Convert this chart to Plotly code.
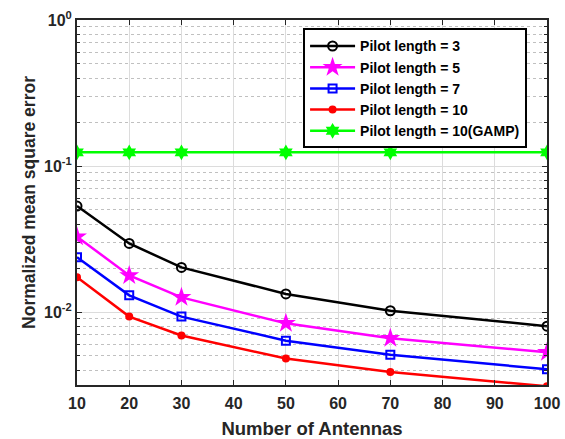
import plotly.graph_objects as go

antennas = [10, 20, 30, 50, 70, 100]
nmse_p3 = [0.0532, 0.0295, 0.0202, 0.0133, 0.0102, 0.0080]
nmse_p5 = [0.0328, 0.0178, 0.0126, 0.00836, 0.0066, 0.0053]
nmse_p7 = [0.0237, 0.0130, 0.0093, 0.00636, 0.0051, 0.00405]
nmse_p10 = [0.0173, 0.0093, 0.0069, 0.0048, 0.00388, 0.0031]
nmse_gamp = [0.124, 0.124, 0.124, 0.124, 0.124, 0.124]

names = ["Pilot length = 3", "Pilot length = 5", "Pilot length = 7",
         "Pilot length = 10", "Pilot length = 10(GAMP)"]
x_ticks = [10, 20, 30, 40, 50, 60, 70, 80, 90, 100]
y_tickvals = [1e-2, 1e-1, 1]
y_ticktext = ["10<sup>-2</sup>", "10<sup>-1</sup>", "10<sup>0</sup>"]

fig = go.Figure()
styles = [
    (nmse_p3, "black", dict(symbol="circle-open", size=9, line=dict(width=2, color="black"))),
    (nmse_p5, "#ff00ff", dict(symbol="star", size=15, color="#ff00ff")),
    (nmse_p7, "#0000ff", dict(symbol="square-open", size=8, line=dict(width=2, color="#0000ff"))),
    (nmse_p10, "#ff0000", dict(symbol="circle", size=8, color="#ff0000")),
    (nmse_gamp, "#00ff00", dict(symbol="hexagram", size=12, color="#00ff00")),
]
for (ys, col, mk), nm in zip(styles, names):
    fig.add_trace(go.Scatter(x=antennas, y=ys, mode="lines+markers", name=nm,
                             line=dict(color=col, width=2.5), marker=mk))

bold = dict(family="Liberation Sans", weight="bold", color="#262626")
fig.update_layout(
    width=565, height=439,
    margin=dict(l=77, r=18, t=20, b=54, autoexpand=False),
    plot_bgcolor="white", paper_bgcolor="white",
    font=dict(family="Liberation Sans", size=14, color="#262626"),
    legend=dict(x=0.481, y=0.977, xanchor="left", yanchor="top",
                bgcolor="white", bordercolor="black", borderwidth=2,
                font=dict(size=14, family="Liberation Sans", weight="bold", color="black"),
                tracegroupgap=0, itemwidth=45),
)
fig.update_xaxes(
    range=[10, 100], tickvals=x_ticks, automargin=False,
    title=dict(text="Number of Antennas", font=dict(size=18.5, **bold), standoff=12),
    tickfont=dict(size=16, **bold), ticklabelstandoff=3,
    showgrid=True, gridcolor="#dcdcdc", gridwidth=1,
    showline=True, linecolor="#262626", linewidth=2, mirror="ticks",
    ticks="inside", ticklen=5, tickcolor="#262626", zeroline=False,
)
fig.update_yaxes(
    type="log", range=[-2.5, 0], automargin=False,
    tickvals=y_tickvals, ticktext=y_ticktext,
    title=dict(text="Normalized mean square error", font=dict(size=17.5, **bold), standoff=4),
    tickfont=dict(size=16, **bold),
    showgrid=True, gridcolor="#dcdcdc", gridwidth=1,
    showline=True, linecolor="#262626", linewidth=2, mirror="ticks",
    ticks="inside", ticklen=5, tickcolor="#262626", zeroline=False,
    minor=dict(ticks="inside", ticklen=3, tickcolor="#262626", showgrid=True,
               gridcolor="#c0c0c0", griddash="dot", gridwidth=1,
               tickvals=[0.004, 0.005, 0.006, 0.007, 0.008, 0.009,
                         0.02, 0.03, 0.04, 0.05, 0.06, 0.07, 0.08, 0.09,
                         0.2, 0.3, 0.4, 0.5, 0.6, 0.7, 0.8, 0.9]),
)
fig.write_html("out.html", config={"displayModeBar": False},
               post_script="document.body.style.margin='0px';")
